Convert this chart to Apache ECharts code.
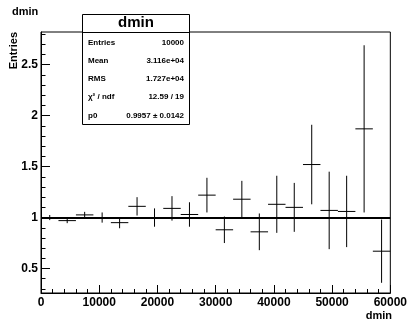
<!DOCTYPE html>
<html>
<head>
<meta charset="utf-8">
<script src="https://cdn.jsdelivr.net/npm/echarts@6/dist/echarts.min.js"></script>
<style>
html,body{margin:0;padding:0;background:#fff;}
#c{width:410px;height:321px;}
</style>
</head>
<body>
<div id="c"></div>
<script>
// ---- data ----
const binCenters = [1500, 4500, 7500, 10500, 13500, 16500, 19500, 22500, 25500, 28500,
                    31500, 34500, 37500, 40500, 43500, 46500, 49500, 52500, 55500, 58500];
const binWidth = 3000;
const binValues = [1.00, 0.97, 1.026, 1.00, 0.95, 1.11, 1.00, 1.09, 1.03, 1.22,
                   0.88, 1.18, 0.86, 1.13, 1.10, 1.52, 1.07, 1.06, 1.87, 0.67];
const binErrors = [0.025, 0.025, 0.03, 0.05, 0.055, 0.09, 0.09, 0.12, 0.12, 0.17,
                   0.13, 0.18, 0.18, 0.28, 0.24, 0.39, 0.38, 0.35, 0.82, 0.31];
const fitP0 = 0.9957;
const fitRange = [0, 60000];
const xTickLabels = [0, 10000, 20000, 30000, 40000, 50000, 60000];
const yMajorTicks = [0.5, 1, 1.5, 2, 2.5];
const yMinorTicks = [0.3, 0.4, 0.6, 0.7, 0.8, 0.9, 1.1, 1.2, 1.3, 1.4, 1.6, 1.7, 1.8, 1.9,
                     2.1, 2.2, 2.3, 2.4, 2.6, 2.7, 2.8];
const statsTitle = 'dmin';
const statsLabels = ['Entries', 'Mean', 'RMS', 'χ² / ndf', 'p0'];
const statsValues = ['10000', '3.116e+04', '1.727e+04', '12.59 / 19', '0.9957 ± 0.0142'];
const histTitle = 'dmin';
const xTitle = 'dmin';
const yTitle = 'Entries';

// ---- chart ----
const FONT = '"Liberation Sans", Arial, Helvetica, sans-serif';
const chart = echarts.init(document.getElementById('c'), null, {renderer: 'canvas'});

const errData = binCenters.map((x, i) => [x, binValues[i], binErrors[i]]);

const statsRowY = [43, 61, 79, 97, 116];
const graphics = [
  {type: 'text', left: 12, top: 6, z: 10,
   style: {text: histTitle, font: 'bold 11px ' + FONT, fill: '#000'}},
  {type: 'text', x: 392, y: 310, z: 10,
   style: {text: xTitle, font: 'bold 11px ' + FONT, fill: '#000', align: 'right', verticalAlign: 'top'}},
  {type: 'text', x: 14, y: 32, rotation: Math.PI / 2, z: 10,
   style: {text: yTitle, font: 'bold 11px ' + FONT, fill: '#000', align: 'right', verticalAlign: 'middle'}},
  {type: 'rect', z: 20, shape: {x: 82.5, y: 14.5, width: 107, height: 110},
   style: {fill: '#fff', stroke: '#000', lineWidth: 1}},
  {type: 'line', z: 21, shape: {x1: 82.5, y1: 32.5, x2: 189.5, y2: 32.5},
   style: {stroke: '#000', lineWidth: 1}},
  {type: 'text', z: 22, x: 136, y: 23,
   style: {text: statsTitle, font: 'bold 15px ' + FONT, fill: '#000', align: 'center', verticalAlign: 'middle'}}
];
statsLabels.forEach((lab, i) => {
  graphics.push({type: 'text', z: 22, x: 88, y: statsRowY[i],
    style: {text: lab, font: 'bold 8px ' + FONT, fill: '#000', align: 'left', verticalAlign: 'middle'}});
  graphics.push({type: 'text', z: 22, x: 184, y: statsRowY[i],
    style: {text: statsValues[i], font: 'bold 8px ' + FONT, fill: '#000', align: 'right', verticalAlign: 'middle'}});
});

const option = {
  animation: false,
  backgroundColor: '#fff',
  grid: {left: 41, right: 18, top: 32, bottom: 28, show: true, borderColor: '#000', borderWidth: 1, backgroundColor: 'transparent'},
  xAxis: {
    type: 'value', min: 0, max: 60000, interval: 10000,
    axisLine: {show: true, onZero: false, lineStyle: {color: '#000', width: 1}},
    axisTick: {show: true, inside: true, length: 8, lineStyle: {color: '#000'}},
    minorTick: {show: true, splitNumber: 5, length: 4, lineStyle: {color: '#000'}},
    splitLine: {show: false},
    axisLabel: {color: '#000', fontFamily: FONT, fontWeight: 'bold', fontSize: 12, margin: 4,
      customValues: xTickLabels, formatter: v => String(v)}
  },
  yAxis: [{
    type: 'value', min: 0.26, max: 2.82,
    axisLine: {show: true, onZero: false, lineStyle: {color: '#000', width: 1}},
    axisTick: {show: true, inside: true, length: 9, customValues: yMajorTicks, lineStyle: {color: '#000'}},
    splitLine: {show: false},
    axisLabel: {color: '#000', fontFamily: FONT, fontWeight: 'bold', fontSize: 12, margin: 3,
      customValues: yMajorTicks, formatter: v => String(v)}
  }, {
    type: 'value', min: 0.26, max: 2.82, position: 'left', offset: 0,
    axisLine: {show: false},
    axisTick: {show: true, inside: true, length: 4.5, customValues: yMinorTicks, lineStyle: {color: '#000'}},
    axisLabel: {show: false},
    splitLine: {show: false}
  }],
  graphic: graphics,
  series: [{
    type: 'custom',
    clip: true,
    data: errData,
    renderItem: function (params, api) {
      const x = api.value(0), y = api.value(1), e = api.value(2);
      const pL = api.coord([x - binWidth / 2, y]);
      const pR = api.coord([x + binWidth / 2, y]);
      const pT = api.coord([x, y + e]);
      const pB = api.coord([x, y - e]);
      return {type: 'group', children: [
        {type: 'line', shape: {x1: pL[0], y1: pL[1], x2: pR[0], y2: pR[1]}, style: {stroke: '#000', lineWidth: 1}},
        {type: 'line', shape: {x1: pB[0], y1: pB[1], x2: pT[0], y2: pT[1]}, style: {stroke: '#000', lineWidth: 1}}
      ]};
    }
  }, {
    type: 'line',
    data: [[fitRange[0], fitP0], [fitRange[1], fitP0]],
    symbol: 'none',
    lineStyle: {color: '#000', width: 2},
    z: 5
  }]
};
chart.setOption(option);
</script>
</body>
</html>
